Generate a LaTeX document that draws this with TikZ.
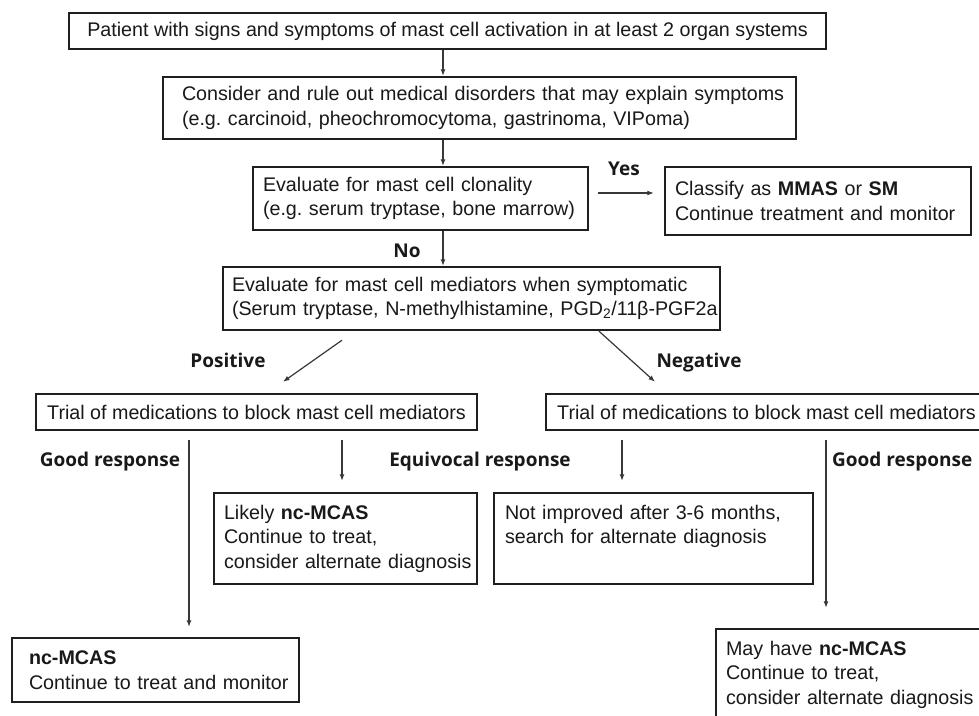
\documentclass[tikz,border=0pt]{standalone}
\usepackage{fontspec}
\setmainfont{Liberation Sans}
\newfontfamily\labfont{Open Sans}
\usetikzlibrary{arrows.meta,calc}
\frenchspacing
\begin{document}
\begin{tikzpicture}[x=1pt,y=-1pt,
  box/.style={draw=black!88, line width=2.4pt, inner sep=0pt, text=black!90,
    font=\fontsize{19.7}{24.5}\selectfont},
  tbox/.style={box, align=left},
  arr/.style={draw=black!78, line width=1.2pt, -{Latex[length=6.5pt,width=5pt]}},
  lab/.style={font=\labfont\bfseries\fontsize{19}{22}\selectfont, text=black!90,
    inner sep=0pt, text height=14pt, text depth=4pt}]
\useasboundingbox (0,0) rectangle (979,715);
\fill[white] (0,0) rectangle (979,715);
\coordinate (cA) at (443,0);
\coordinate (cL) at (189,0);
\coordinate (cM1) at (342,0);
\coordinate (cM2) at (622,0);
\coordinate (cR) at (826,0);

\node[box, minimum width=757pt, minimum height=36pt] (b1) at (447.5,31)
  {Patient with signs and symptoms of mast cell activation in at least 2 organ systems};
\node[tbox, minimum width=633pt, minimum height=62pt, text width=595pt] (b2) at (479.5,108)
  {\mbox{Consider and rule out medical disorders that may explain symptoms}\\
   \mbox{(e.g. carcinoid, pheochromocytoma, gastrinoma, VIPoma)}};
\node[tbox, minimum width=335pt, minimum height=63pt, text width=315pt] (b3) at (420.5,198.5)
  {\mbox{Evaluate for mast cell clonality}\\
   \mbox{(e.g. serum tryptase, bone marrow)}};
\node[tbox, minimum width=306pt, minimum height=68pt, text width=286pt] (b4) at (818,201)
  {\mbox{Classify as \textbf{MMAS} or \textbf{SM}}\\
   \mbox{Continue treatment and monitor}};
\node[tbox, minimum width=497pt, minimum height=63pt, text width=479pt] (b5) at (471.5,298.5)
  {\mbox{Evaluate for mast cell mediators when symptomatic}\\
   \mbox{(Serum tryptase, N-methylhistamine, PGD\textsubscript{2}/11β-PGF2a}};
\node[box, minimum width=441pt, minimum height=36pt] (b6) at (256.5,412)
  {Trial of medications to block mast cell mediators};
\node[box, minimum width=441pt, minimum height=36pt] (b7) at (766.5,412)
  {Trial of medications to block mast cell mediators};
\node[tbox, minimum width=263pt, minimum height=91pt, text width=243pt] (b8) at (345.5,538.5)
  {\mbox{Likely \textbf{nc-MCAS}}\\
   \mbox{Continue to treat,}\\
   \mbox{consider alternate diagnosis}};
\node[tbox, minimum width=319pt, minimum height=91pt, text width=297pt] (b9) at (653.5,538.5)
  {\mbox{Not improved after 3-6 months,}\\
   \mbox{search for alternate diagnosis}\\
   \mbox{\vphantom{g}}};
\node[tbox, minimum width=287pt, minimum height=64pt, text width=253pt] (b10) at (155.5,670)
  {\mbox{\textbf{nc-MCAS}}\\
   \mbox{Continue to treat and monitor}};
\node[tbox, minimum width=274pt, minimum height=91pt, text width=254pt] (b11) at (853,674.5)
  {\mbox{May have \textbf{nc-MCAS}}\\
   \mbox{Continue to treat,}\\
   \mbox{consider alternate diagnosis}};

\draw[arr] (b1.south -| cA) -- (b2.north -| cA);
\draw[arr] (b2.south -| cA) -- (b3.north -| cA);
\draw[arr] (b3.south -| cA) -- (b5.north -| cA);
\draw[arr] ([shift={(9,-5.5)}]b3.east) -- ([shift={(-10,-8)}]b4.west);
\draw[arr] ([shift={(-129.5,9)}]b5.south) -- ([shift={(26.5,-11)}]b6.north);
\draw[arr] ([shift={(127.5,0)}]b5.south) -- ([shift={(-111.5,-11)}]b7.north);
\draw[arr] ($(b6.south -| cL)+(0,9)$) -- ($(b10.north -| cL)+(0,-10)$);
\draw[arr] ($(b6.south -| cM1)+(0,9)$) -- ($(b8.north -| cM1)+(0,-11)$);
\draw[arr] ($(b7.south -| cM2)+(0,9)$) -- ($(b9.north -| cM2)+(0,-11)$);
\draw[arr] ($(b7.south -| cR)+(0,9)$) -- ($(b11.north -| cR)+(0,-20)$);

\node[lab] (lyes) at (624,170) {Yes};
\node[lab] (lno) at (407,252) {No};
\node[lab] (lpos) at (228,362) {Positive};
\node[lab] (lneg) at (699,362) {Negative};
\node[lab] (lgood1) at (110,461) {Good response};
\node[lab] (lequ) at (480,461) {Equivocal response};
\node[lab, anchor=west] (lgood2) at (832,461) {Good response};
\end{tikzpicture}
\end{document}
